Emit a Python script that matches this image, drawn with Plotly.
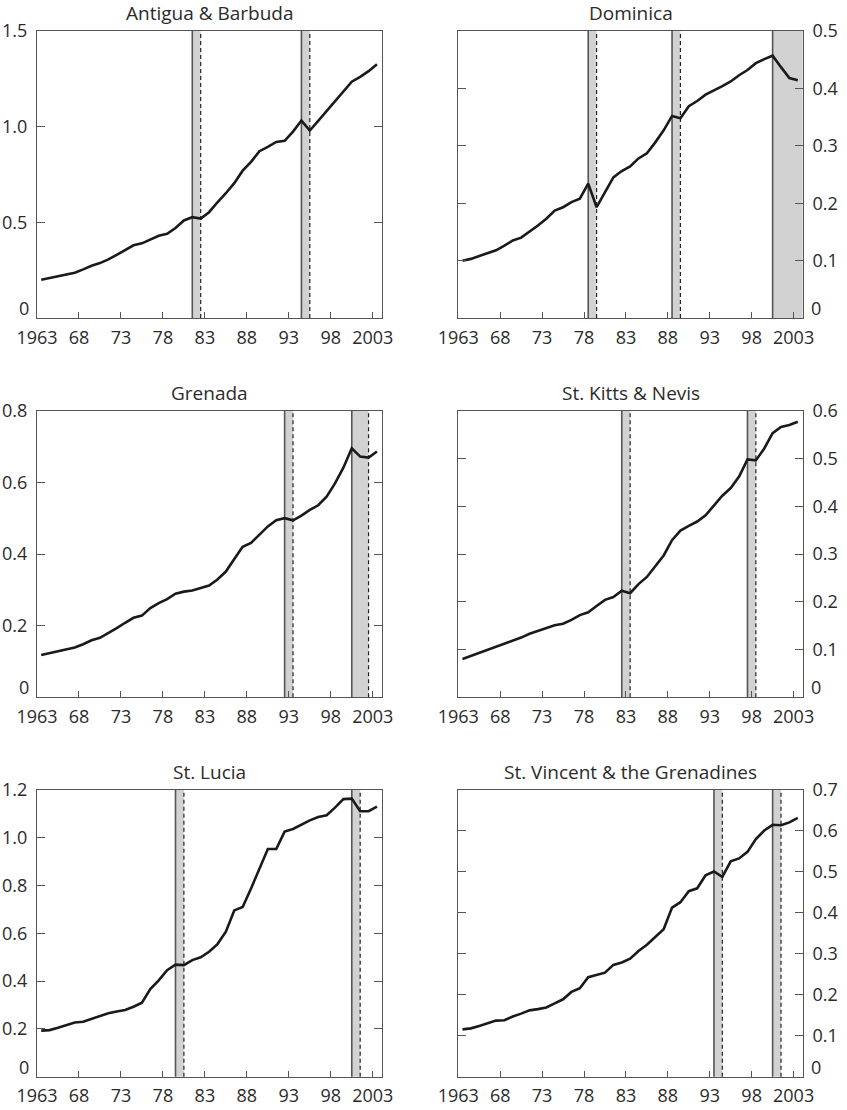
import plotly.graph_objects as go

years = list(range(1963, 2004))

titles = ["Antigua & Barbuda", "Dominica", "Grenada", "St. Kitts & Nevis",
          "St. Lucia", "St. Vincent & the Grenadines"]

antigua = [0.20, 0.21, 0.22, 0.23, 0.237, 0.254, 0.273, 0.287, 0.306, 0.33, 0.355,
           0.38, 0.39, 0.41, 0.43, 0.44, 0.47, 0.51, 0.527, 0.52, 0.553, 0.605,
           0.652, 0.705, 0.77, 0.816, 0.872, 0.894, 0.92, 0.926, 0.974, 1.032,
           0.98, 1.03, 1.082, 1.133, 1.185, 1.235, 1.26, 1.29, 1.326]
dominica = [0.0998, 0.103, 0.108, 0.113, 0.118, 0.126, 0.135, 0.14, 0.15, 0.161,
            0.173, 0.187, 0.193, 0.202, 0.208, 0.234, 0.193, 0.219, 0.245, 0.256,
            0.264, 0.278, 0.287, 0.306, 0.327, 0.352, 0.348, 0.369, 0.378, 0.389,
            0.396, 0.404, 0.412, 0.423, 0.432, 0.444, 0.451, 0.457, 0.437, 0.418,
            0.414]
grenada = [0.118, 0.123, 0.127, 0.133, 0.139, 0.148, 0.159, 0.166, 0.179, 0.193,
           0.208, 0.222, 0.228, 0.249, 0.263, 0.274, 0.289, 0.295, 0.298, 0.306,
           0.312, 0.329, 0.351, 0.386, 0.42, 0.431, 0.455, 0.477, 0.494, 0.50,
           0.494, 0.507, 0.523, 0.536, 0.56, 0.597, 0.641, 0.695, 0.672, 0.669,
           0.686]
st_kitts = [0.080, 0.0865, 0.093, 0.10, 0.105, 0.112, 0.118, 0.125, 0.133, 0.139,
            0.145, 0.151, 0.154, 0.162, 0.172, 0.178, 0.191, 0.204, 0.21, 0.223,
            0.218, 0.237, 0.252, 0.274, 0.297, 0.329, 0.349, 0.359, 0.368, 0.381,
            0.402, 0.422, 0.438, 0.462, 0.498, 0.496, 0.521, 0.553, 0.566, 0.57,
            0.577]
st_lucia = [0.193, 0.195, 0.205, 0.216, 0.227, 0.23, 0.243, 0.254, 0.266, 0.273,
            0.279, 0.293, 0.31, 0.367, 0.403, 0.446, 0.469, 0.467, 0.488, 0.50,
            0.523, 0.555, 0.607, 0.696, 0.71, 0.788, 0.868, 0.953, 0.953, 1.026,
            1.037, 1.055, 1.073, 1.087, 1.094, 1.126, 1.162, 1.164, 1.111, 1.111,
            1.13]
st_vincent = [0.1156, 0.118, 0.124, 0.131, 0.137, 0.138, 0.147, 0.154, 0.162, 0.165,
              0.169, 0.179, 0.189, 0.207, 0.216, 0.243, 0.248, 0.254, 0.273, 0.279,
              0.288, 0.307, 0.322, 0.342, 0.36, 0.413, 0.426, 0.453, 0.46, 0.492,
              0.501, 0.488, 0.526, 0.533, 0.549, 0.58, 0.601, 0.615, 0.614, 0.621,
              0.632]

# shaded episodes: (start year, end year); None = runs to end of sample window
bands_antigua = [(1981, 1982), (1994, 1995)]
bands_dominica = [(1978, 1979), (1988, 1989), (2000, None)]
bands_grenada = [(1992, 1993), (2000, 2002)]
bands_st_kitts = [(1982, 1983), (1997, 1998)]
bands_st_lucia = [(1979, 1980), (2000, 2001)]
bands_st_vincent = [(1993, 1994), (2000, 2001)]

# y ticks (the zero label is drawn separately, sitting on the axis)
y_tickvals = [[0.5, 1.0, 1.5], [0.1, 0.2, 0.3, 0.4, 0.5],
              [0.2, 0.4, 0.6, 0.8], [0.1, 0.2, 0.3, 0.4, 0.5, 0.6],
              [0.2, 0.4, 0.6, 0.8, 1.0, 1.2], [0.1, 0.2, 0.3, 0.4, 0.5, 0.6, 0.7]]
y_ticktext = [["0.5", "1.0", "1.5"], ["0.1", "0.2", "0.3", "0.4", "0.5"],
              ["0.2", "0.4", "0.6", "0.8"], ["0.1", "0.2", "0.3", "0.4", "0.5", "0.6"],
              ["0.2", "0.4", "0.6", "0.8", "1.0", "1.2"],
              ["0.1", "0.2", "0.3", "0.4", "0.5", "0.6", "0.7"]]
zero_label = "0"
x_tickvals = [1963, 1968, 1973, 1978, 1983, 1988, 1993, 1998, 2003]
x_ticktext = ["1963", "68", "73", "78", "83", "88", "93", "98", "2003"]

series = [antigua, dominica, grenada, st_kitts, st_lucia, st_vincent]
bands = [bands_antigua, bands_dominica, bands_grenada, bands_st_kitts,
         bands_st_lucia, bands_st_vincent]

W, H = 847, 1110
col_px = [(37.0, 382.0), (458.3, 802.8)]
row_px = [(31.0, 318.0), (410.7, 697.3), (790.0, 1076.7)]
XR = [1963, 2004.1]

FONT = "'Open Sans', 'Noto Sans', sans-serif"
AX = "#555555"
TXT = "#2b2b2b"
FS = 18

fig = go.Figure()
shapes = []
annotations = []

for i in range(6):
    r, c = divmod(i, 2)
    n = i + 1
    xa = "x" if n == 1 else f"x{n}"
    ya = "y" if n == 1 else f"y{n}"
    xd = [col_px[c][0] / W, col_px[c][1] / W]
    yd = [1 - row_px[r][1] / H, 1 - row_px[r][0] / H]
    ymax = y_tickvals[i][-1]

    for (s, e) in bands[i]:
        x0 = s + 0.5
        x1 = (e + 0.5) if e is not None else XR[1]
        shapes.append(dict(type="rect", xref=xa, yref=f"{ya} domain", x0=x0, x1=x1,
                           y0=0, y1=1, fillcolor="#d2d2d2", line=dict(width=0),
                           layer="below"))
        shapes.append(dict(type="line", xref=xa, yref=f"{ya} domain", x0=x0, x1=x0,
                           y0=0, y1=1, line=dict(color="#555555", width=1.6),
                           layer="below"))
        if e is not None:
            shapes.append(dict(type="line", xref=xa, yref=f"{ya} domain", x0=x1, x1=x1,
                               y0=0, y1=1, line=dict(color="#222222", width=1.2,
                                                     dash="4px,3px"),
                               layer="below"))

    fig.add_trace(go.Scatter(x=[y + 0.5 for y in years], y=series[i], mode="lines",
                             line=dict(color="#1a1a1a", width=2.6),
                             xaxis=xa, yaxis=ya, showlegend=False, hoverinfo="skip"))

    xkey = "xaxis" if n == 1 else f"xaxis{n}"
    ykey = "yaxis" if n == 1 else f"yaxis{n}"
    fig.layout[xkey] = dict(domain=xd, anchor=ya, range=XR, tickmode="array",
                            tickvals=x_tickvals, ticktext=x_ticktext,
                            ticks="inside", ticklen=6, tickwidth=1.2, tickcolor=AX,
                            showline=True, linecolor=AX, linewidth=1.3, mirror=True,
                            showgrid=False, zeroline=False, fixedrange=True,
                            automargin=False, ticklabelstandoff=3,
                            tickfont=dict(family=FONT, size=FS, color=TXT))
    fig.layout[ykey] = dict(domain=yd, anchor=xa, range=[0, ymax], tickmode="array",
                            tickvals=y_tickvals[i], ticktext=y_ticktext[i],
                            side="left" if c == 0 else "right",
                            ticks="inside", ticklen=8, tickwidth=1.2, tickcolor=AX,
                            showline=True, linecolor=AX, linewidth=1.3, mirror="ticks",
                            showgrid=False, zeroline=False, fixedrange=True,
                            automargin=False, ticklabelstandoff=5,
                            tickfont=dict(family=FONT, size=FS, color=TXT))
    # zero label sitting on the bottom axis
    annotations.append(dict(text=zero_label, xref=f"{xa} domain", yref=f"{ya} domain",
                            x=0 if c == 0 else 1, y=0,
                            xanchor="right" if c == 0 else "left", yanchor="bottom",
                            xshift=-6 if c == 0 else 6, yshift=-4, showarrow=False,
                            font=dict(family=FONT, size=FS, color=TXT)))
    annotations.append(dict(text=titles[i], xref="paper", yref="paper",
                            x=(xd[0] + xd[1]) / 2, y=yd[1], xanchor="center",
                            yanchor="bottom", yshift=3, showarrow=False,
                            font=dict(family=FONT, size=19, color=TXT)))

fig.update_layout(width=W, height=H, margin=dict(l=0, r=0, t=0, b=0, autoexpand=False),
                  paper_bgcolor="white", plot_bgcolor="white",
                  shapes=shapes, annotations=annotations, showlegend=False)

fig.write_html("out.html")
